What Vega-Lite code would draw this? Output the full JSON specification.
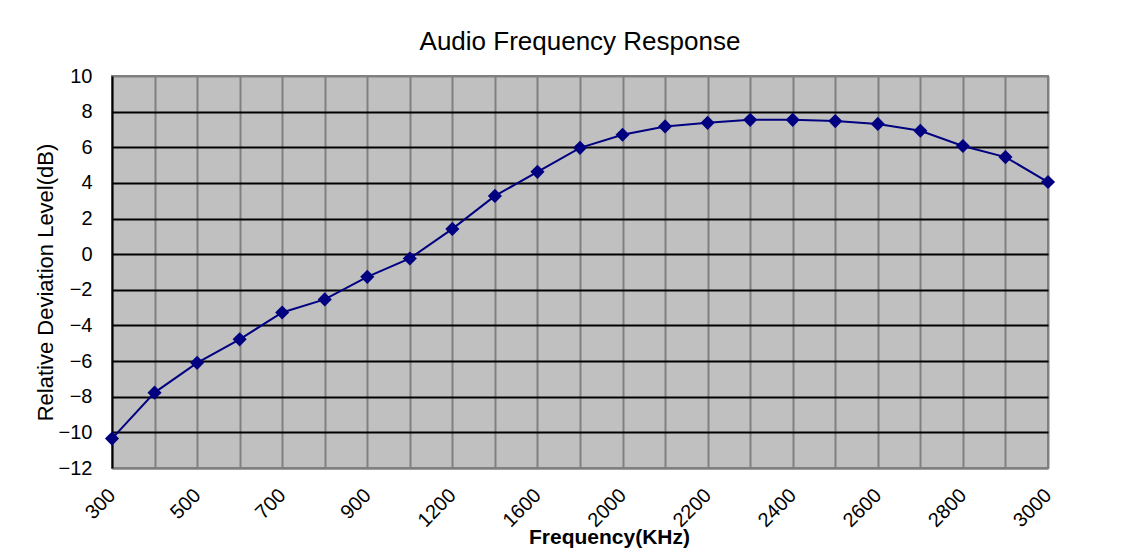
{
  "$schema": "https://vega.github.io/schema/vega-lite/v6.json",
  "width": 936,
  "height": 392,
  "autosize": {"type": "none"},
  "padding": {"left": 112, "top": 76, "right": 83, "bottom": 86},
  "background": "white",
  "title": {
    "text": "Audio Frequency Response",
    "font": "Liberation Sans",
    "fontSize": 26,
    "fontWeight": "normal",
    "color": "black",
    "baseline": "alphabetic",
    "offset": 23,
    "dy": 33,
    "anchor": "middle"
  },
  "config": {
    "view": {"fill": "#c0c0c0", "stroke": "#808080", "strokeWidth": 2},
    "axis": {"labelFont": "Liberation Sans", "titleFont": "Liberation Sans", "labelColor": "black", "titleColor": "black"}
  },
  "data": {
    "values": [
      {"freq": "300", "level": -10.35},
      {"freq": "400", "level": -7.77},
      {"freq": "500", "level": -6.1},
      {"freq": "600", "level": -4.78},
      {"freq": "700", "level": -3.27},
      {"freq": "800", "level": -2.54},
      {"freq": "900", "level": -1.27},
      {"freq": "1000", "level": -0.24},
      {"freq": "1200", "level": 1.42},
      {"freq": "1400", "level": 3.27},
      {"freq": "1600", "level": 4.62},
      {"freq": "1800", "level": 5.97},
      {"freq": "2000", "level": 6.7},
      {"freq": "2100", "level": 7.17},
      {"freq": "2200", "level": 7.37},
      {"freq": "2300", "level": 7.54},
      {"freq": "2400", "level": 7.54},
      {"freq": "2500", "level": 7.47},
      {"freq": "2600", "level": 7.31},
      {"freq": "2700", "level": 6.93},
      {"freq": "2800", "level": 6.07},
      {"freq": "2900", "level": 5.45},
      {"freq": "3000", "level": 4.05}
    ]
  },
  "encoding": {
    "x": {
      "field": "freq",
      "type": "ordinal",
      "sort": null,
      "scale": {"type": "point", "padding": 0},
      "axis": {
        "title": "Frequency(KHz)",
        "titleFontSize": 21,
        "titleFontWeight": "bold",
        "titleX": 497,
        "titleY": 75,
        "titleAlign": "center",
        "titleBaseline": "alphabetic",
        "labelAngle": -45,
        "labelAlign": "right",
        "labelBaseline": "middle",
        "labelFontSize": 20,
        "labelPadding": 24,
        "labelOverlap": false,
        "labelExpr": "indexof(['300','500','700','900','1200','1600','2000','2200','2400','2600','2800','3000'], datum.label) >= 0 ? datum.label : ''",
        "ticks": false,
        "grid": true,
        "gridColor": "#808080",
        "gridWidth": 2,
        "gridOpacity": 1,
        "domain": true,
        "domainColor": "#808080",
        "domainWidth": 2
      }
    },
    "y": {
      "field": "level",
      "type": "quantitative",
      "scale": {"domain": [-12, 10], "nice": false, "zero": false},
      "axis": {
        "title": "Relative Deviation Level(dB)",
        "titleFontSize": 22,
        "titleFontWeight": "normal",
        "titleX": -67,
        "titleY": 206,
        "titleAngle": -90,
        "titleAlign": "center",
        "titleBaseline": "middle",
        "values": [-12, -10, -8, -6, -4, -2, 0, 2, 4, 6, 8, 10],
        "labelFontSize": 20,
        "labelPadding": 20,
        "ticks": false,
        "grid": true,
        "gridColor": {"condition": {"test": "datum.value == 10 || datum.value == -12", "value": "#808080"}, "value": "black"},
        "gridWidth": 2,
        "gridOpacity": 1,
        "domain": true,
        "domainColor": "black",
        "domainWidth": 2
      }
    }
  },
  "layer": [
    {"mark": {"type": "line", "color": "#000080", "strokeWidth": 2}},
    {"mark": {"type": "point", "shape": "diamond", "filled": true, "size": 200, "color": "#000080", "opacity": 1}}
  ]
}
